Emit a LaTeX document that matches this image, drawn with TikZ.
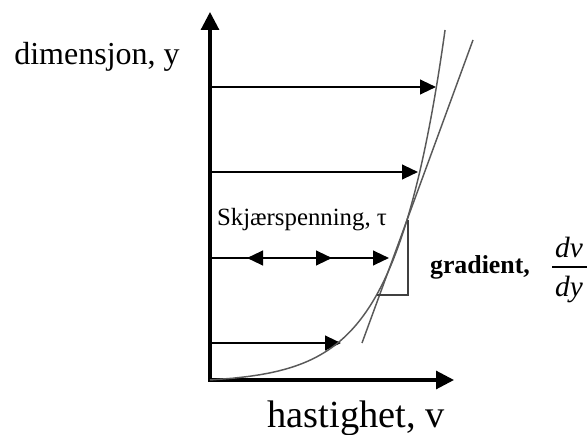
\documentclass[tikz,border=0pt]{standalone}
\usepackage{fontspec}
\setmainfont{Liberation Serif}
\usetikzlibrary{arrows.meta}
\begin{document}
\begin{tikzpicture}[x=0.75pt,y=-0.75pt,
  axis/.style={line width=2.3pt,-{Triangle[length=13.5pt,width=13.5pt]}},
  vel/.style={line width=1.6pt,-{Triangle[length=12pt,width=11pt]}},
  dbl/.style={line width=1.6pt,{Triangle[length=12pt,width=11pt]}-{Triangle[length=12pt,width=11pt]}},
  thin/.style={line width=1pt,draw=black!75},
  lbl/.style={inner sep=0pt,anchor=base},
  fr/.style={inner sep=0pt,anchor=base,font=\fontsize{22}{26}\selectfont\itshape}]
\useasboundingbox (0,0) rectangle (587,435);
% axes
\coordinate (O) at (210,380);
\coordinate (Oy) at (210,382);
\coordinate (Ox) at (208,380);
\coordinate (Ytip) at (210,12);
\coordinate (Xtip) at (454,380);
\draw[axis] (Oy) -- (Ytip);
\draw[axis] (Ox) -- (Xtip);
% velocity arrows
\coordinate (a1s) at (210,87);  \coordinate (a1e) at (436,87);
\coordinate (a2s) at (210,172); \coordinate (a2e) at (418,172);
\coordinate (a3s) at (210,258); \coordinate (a3e) at (389,258);
\coordinate (a3l) at (247,258); \coordinate (a3m) at (332,258);
\coordinate (a4s) at (210,343); \coordinate (a4e) at (341,343);
\draw[vel] (a1s) -- (a1e);
\draw[vel] (a2s) -- (a2e);
\draw[vel] (a3s) -- (a3e);
\draw[dbl] (a3l) -- (a3m);
\draw[vel] (a4s) -- (a4e);
% velocity profile
\draw[line width=1.1pt,draw=black!65] plot[domain=0:350,samples=200,variable=\h]
  ({210+49.3*ln(1+\h/3)},{380-\h});
% tangent
\coordinate (t1) at (362,343);
\coordinate (t2) at (473,40);
\draw[line width=1.1pt,draw=black!65] (t1) -- (t2);
% gradient triangle
\coordinate (g1) at (408,220);
\coordinate (g2) at (408,295);
\coordinate (g3) at (377,295);
\draw[thin] (g1) -- (g2) -- (g3);
% labels
\node[lbl] (ylab) at (97,65) {\fontsize{24}{28}\selectfont dimensjon, y};
\node[lbl] (xlab) at (356,428) {\fontsize{28.8}{33}\selectfont hastighet, v};
\node[lbl] (tau) at (302,226) {\fontsize{18.6}{22}\selectfont Skjærspenning, τ};
\node[lbl] (grad) at (480,274) {\fontsize{19.4}{23}\selectfont\bfseries gradient,};
\node[fr] (num) at (569,258) {dv};
\node[fr] (den) at (569,297) {dy};
\coordinate (b1) at (552,267);
\coordinate (b2) at (587,267);
\draw[line width=1.3pt] (b1) -- (b2);
\end{tikzpicture}
\end{document}
